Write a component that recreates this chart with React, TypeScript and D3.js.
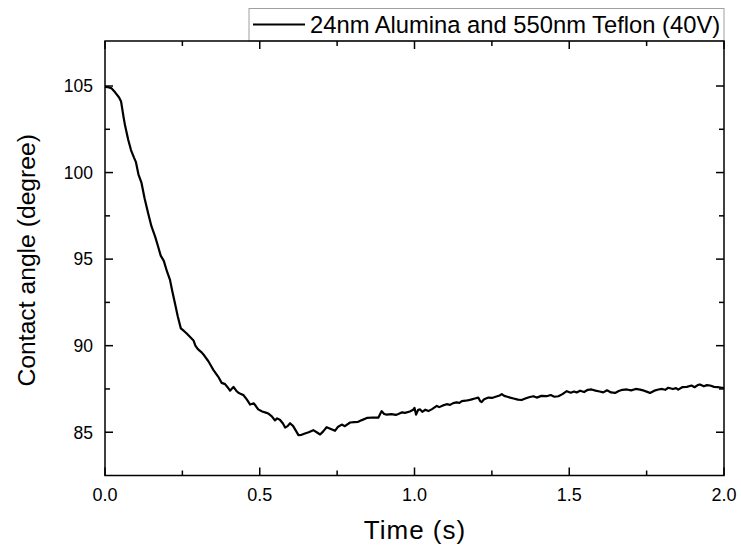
import React from "react";
import * as d3 from "d3";

const times = [
  0.0, 0.01, 0.02, 0.032, 0.045, 0.052, 0.06, 0.065, 0.075, 0.084, 0.094, 0.1, 0.108, 0.118, 0.128, 0.14, 0.15, 0.162, 0.172, 0.18,
  0.19, 0.2, 0.21, 0.218, 0.226, 0.235, 0.245, 0.255, 0.264, 0.275, 0.286, 0.292, 0.3, 0.313, 0.322, 0.334, 0.342, 0.35, 0.358, 0.366,
  0.377, 0.388, 0.396, 0.404, 0.415, 0.424, 0.431, 0.44, 0.447, 0.458, 0.469, 0.481, 0.488, 0.495, 0.508, 0.522, 0.53, 0.539, 0.549, 0.556,
  0.565, 0.575, 0.582, 0.59, 0.598, 0.608, 0.618, 0.625, 0.635, 0.646, 0.658, 0.673, 0.684, 0.695, 0.705, 0.716, 0.728, 0.743, 0.752, 0.765,
  0.775, 0.792, 0.805, 0.818, 0.83, 0.848, 0.865, 0.883, 0.894, 0.902, 0.91, 0.925, 0.94, 0.948, 0.96, 0.969, 0.985, 0.996, 1.0, 1.005,
  1.012, 1.018, 1.025, 1.035, 1.045, 1.058, 1.072, 1.08, 1.092, 1.104, 1.115, 1.125, 1.136, 1.145, 1.153, 1.165, 1.175, 1.185, 1.195, 1.206,
  1.212, 1.217, 1.225, 1.239, 1.25, 1.262, 1.275, 1.282, 1.29, 1.3, 1.309, 1.32, 1.334, 1.346, 1.358, 1.37, 1.384, 1.395, 1.41, 1.427,
  1.44, 1.452, 1.465, 1.478, 1.492, 1.505, 1.515, 1.524, 1.535, 1.548, 1.56, 1.572, 1.585, 1.598, 1.61, 1.622, 1.635, 1.648, 1.66, 1.672,
  1.686, 1.7, 1.715, 1.729, 1.742, 1.752, 1.761, 1.775, 1.788, 1.8, 1.81, 1.82, 1.835, 1.845, 1.852, 1.865, 1.88, 1.895, 1.905, 1.915,
  1.922, 1.935, 1.945, 1.955, 1.968, 1.98, 1.993, 2.0,
];

const angles = [
  104.95, 104.93, 104.88, 104.65, 104.35, 104.1, 103.2, 102.7, 101.9, 101.3, 100.85, 100.6, 99.9, 99.4, 98.5, 97.6, 96.9, 96.3, 95.7, 95.2,
  94.9, 94.3, 93.8, 93.1, 92.45, 91.7, 91.0, 90.85, 90.7, 90.5, 90.3, 90.0, 89.8, 89.6, 89.4, 89.1, 88.85, 88.6, 88.4, 88.2,
  87.85, 87.78, 87.6, 87.4, 87.62, 87.4, 87.28, 87.2, 87.15, 86.9, 86.6, 86.67, 86.5, 86.32, 86.2, 86.12, 86.05, 85.92, 85.68, 85.8,
  85.72, 85.5, 85.27, 85.35, 85.52, 85.35, 85.05, 84.83, 84.85, 84.93, 85.0, 85.12, 85.0, 84.87, 85.05, 85.29, 85.2, 85.08, 85.3, 85.44,
  85.35, 85.56, 85.58, 85.6, 85.7, 85.83, 85.85, 85.84, 86.22, 86.05, 86.02, 86.05, 86.0, 86.05, 86.15, 86.12, 86.2, 86.3, 86.4, 86.02,
  86.3, 86.32, 86.18, 86.3, 86.22, 86.35, 86.52, 86.45, 86.55, 86.62, 86.58, 86.68, 86.72, 86.7, 86.8, 86.82, 86.85, 86.9, 86.95, 87.0,
  86.8, 86.74, 86.9, 87.0, 86.98, 87.05, 87.12, 87.2, 87.1, 87.05, 87.0, 86.95, 86.88, 86.86, 86.95, 87.02, 87.08, 87.0, 87.1, 87.08,
  87.15, 87.05, 87.08, 87.2, 87.37, 87.28, 87.35, 87.3, 87.4, 87.32, 87.45, 87.47, 87.4, 87.35, 87.3, 87.42, 87.3, 87.27, 87.38, 87.45,
  87.47, 87.42, 87.5, 87.46, 87.4, 87.33, 87.27, 87.4, 87.47, 87.5, 87.45, 87.57, 87.5, 87.55, 87.46, 87.6, 87.62, 87.7, 87.6, 87.72,
  87.76, 87.65, 87.72, 87.7, 87.62, 87.6, 87.57, 87.56,
];

const xMajorTicks = [0, 0.5, 1.0, 1.5, 2.0];
const xMinorTicks = [0.25, 0.75, 1.25, 1.75];
const yMajorTicks = [85, 90, 95, 100, 105];
const yMinorTicks = [87.5, 92.5, 97.5, 102.5];
const legendLabel = "24nm Alumina and 550nm Teflon (40V)";
const xTitle = "Time (s)";
const yTitle = "Contact angle (degree)";

export default function App() {
  const W = 741;
  const H = 553;
  const left = 105;
  const right = 724;
  const top = 41;
  const bottom = 475.5;
  const x = d3.scaleLinear().domain([0, 2]).range([left, right]);
  const y = d3.scaleLinear().domain([82.5, 107.6]).range([bottom, top]);
  const pts: [number, number][] = times.map((t, i) => [t, angles[i]]);
  const line = d3
    .line<[number, number]>()
    .x((d) => x(d[0]))
    .y((d) => y(d[1]));
  const font = "'Liberation Sans', Arial, sans-serif";
  const maj = 8;
  const min = 5;
  const axisStroke = 1.5;

  return (
    <svg
      width={W}
      height={H}
      style={{ position: "absolute", left: 0, top: 0, background: "#fff" }}
      fontFamily={font}
    >
      <rect x={0} y={0} width={W} height={H} fill="#fff" />
      {/* legend box */}
      <rect x={249} y={8.5} width={right - 249} height={top - 8.5} fill="#fff" stroke="#a0a0a0" strokeWidth={1} />
      <line x1={253} x2={305} y1={24.5} y2={24.5} stroke="#000" strokeWidth={2} />
      <text x={310} y={33} fontSize={23.75} fill="#000">
        {legendLabel}
      </text>

      {/* data line */}
      <path d={line(pts) || ""} fill="none" stroke="#000" strokeWidth={2.2} strokeLinejoin="round" />

      {/* frame */}
      <rect x={left} y={top} width={right - left} height={bottom - top} fill="none" stroke="#000" strokeWidth={axisStroke} />

      {/* x ticks bottom & top */}
      {xMajorTicks.map((t) => (
        <g key={"xm" + t}>
          <line x1={x(t)} x2={x(t)} y1={bottom} y2={bottom - maj} stroke="#000" strokeWidth={axisStroke} />
          <line x1={x(t)} x2={x(t)} y1={top} y2={top + maj} stroke="#000" strokeWidth={axisStroke} />
          <text x={x(t)} y={501} fontSize={18} textAnchor="middle" fill="#000">
            {t.toFixed(1)}
          </text>
        </g>
      ))}
      {xMinorTicks.map((t) => (
        <g key={"xn" + t}>
          <line x1={x(t)} x2={x(t)} y1={bottom} y2={bottom - min} stroke="#000" strokeWidth={axisStroke} />
          <line x1={x(t)} x2={x(t)} y1={top} y2={top + min} stroke="#000" strokeWidth={axisStroke} />
        </g>
      ))}

      {/* y ticks left & right */}
      {yMajorTicks.map((v) => (
        <g key={"ym" + v}>
          <line x1={left} x2={left + maj} y1={y(v)} y2={y(v)} stroke="#000" strokeWidth={axisStroke} />
          <line x1={right} x2={right - maj} y1={y(v)} y2={y(v)} stroke="#000" strokeWidth={axisStroke} />
          <text x={93} y={y(v) + 6.3} fontSize={17.5} textAnchor="end" fill="#000">
            {v}
          </text>
        </g>
      ))}
      {yMinorTicks.map((v) => (
        <g key={"yn" + v}>
          <line x1={left} x2={left + min} y1={y(v)} y2={y(v)} stroke="#000" strokeWidth={axisStroke} />
          <line x1={right} x2={right - min} y1={y(v)} y2={y(v)} stroke="#000" strokeWidth={axisStroke} />
        </g>
      ))}

      {/* titles */}
      <text x={415} y={538.5} fontSize={26} letterSpacing={1} textAnchor="middle" fill="#000">
        {xTitle}
      </text>
      <text
        transform={`translate(35, ${(top + bottom) / 2 + 2}) rotate(-90)`}
        fontSize={24.7}
        textAnchor="middle"
        fill="#000"
      >
        {yTitle}
      </text>
    </svg>
  );
}
